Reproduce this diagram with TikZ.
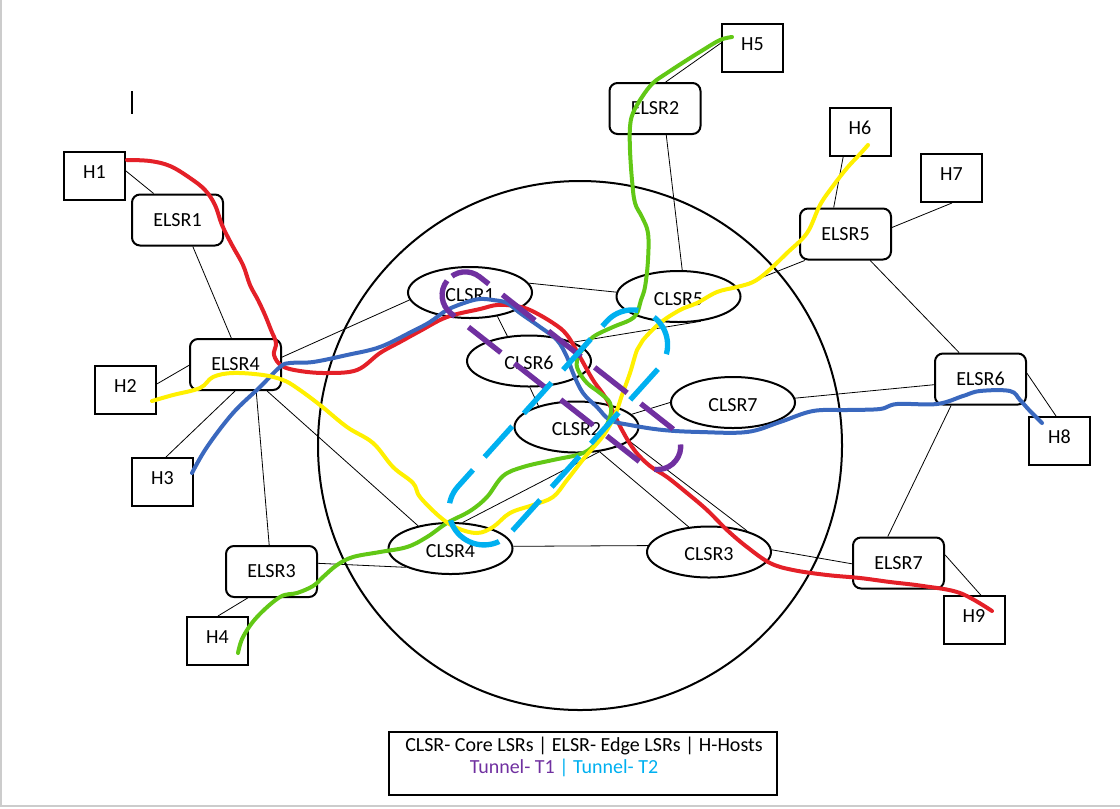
\documentclass[tikz,border=0pt]{standalone}
\usepackage{fontspec}
\setmainfont{Carlito}
\usetikzlibrary{shapes.geometric}
\tikzset{every picture/.style={line width=0.75pt}}
\definecolor{tracered}{RGB}{228,32,40}
\definecolor{traceblue}{RGB}{58,104,190}
\definecolor{traceyellow}{RGB}{255,240,0}
\definecolor{tracegreen}{RGB}{98,200,22}
\definecolor{tunnelpurple}{RGB}{112,48,160}
\definecolor{tunnelcyan}{RGB}{0,176,240}
\tikzset{
  lbl/.style={font=\fontsize{15}{18}\selectfont},
  hostbox/.style={lbl, draw, line width=1.5pt, fill=white, inner sep=0pt,
    minimum width=45.75pt, minimum height=36pt, text depth=6pt},
  elsr/.style={lbl, draw, line width=1.5pt, fill=white, inner sep=0pt,
    rounded corners=6pt, minimum width=68.25pt, minimum height=38.25pt},
  clsr/.style={lbl, draw, ellipse, line width=1.5pt, fill=white, inner sep=0pt,
    minimum width=93pt, minimum height=38.25pt, text height=13.5pt},
  link/.style={line width=0.6pt},
  trace/.style={line width=3pt, line cap=round, line join=round},
  tunnel/.style={line width=4pt, dash pattern=on 31pt off 13pt},
}

\begin{document}
\begin{tikzpicture}[x=0.75pt,y=0.75pt,yscale=-1,xscale=1]
\useasboundingbox (0,0) rectangle (1120,808);
%page edge
\draw [gray!40, line width=1.5pt] (1,0) -- (1,806) -- (1120,806);
%stray mark
\draw [line width=0.9pt] (132,91) -- (132,114);

%Shape: core circle
\draw [line width=1.5pt] (580,445.5) ellipse [x radius=262, y radius=264.5];

% core routers
\node [clsr] (c1) at (470,292.5) {CLSR1};
\node [clsr] (c5) at (678.5,296.5) {CLSR5};
\node [clsr] (c6) at (529,361) {CLSR6};
\node [clsr] (c2) at (576.5,427) {CLSR2};
\node [clsr] (c7) at (733,402.5) {CLSR7};
\node [clsr] (c4) at (450.5,548.5) {CLSR4};
\node [clsr] (c3) at (709,552) {CLSR3};

% edge routers
\node [elsr] (e1) at (177.5,220) {ELSR1};
\node [elsr] (e2) at (655,108.5) {ELSR2};
\node [elsr] (e3) at (271.5,571.5) {ELSR3};
\node [elsr] (e4) at (235.5,364.5) {ELSR4};
\node [elsr] (e5) at (845.5,234) {ELSR5};
\node [elsr] (e6) at (980.5,379) {ELSR6};
\node [elsr] (e7) at (898.5,563) {ELSR7};

% hosts
\node [hostbox] (h1) at (94.5,176) {H1};
\node [hostbox] (h2) at (125.5,390) {H2};
\node [hostbox] (h3) at (162.5,482) {H3};
\node [hostbox] (h4) at (217.5,641) {H4};
\node [hostbox] (h5) at (752.5,48) {H5};
\node [hostbox] (h6) at (860,132) {H6};
\node [hostbox] (h7) at (951.5,178) {H7};
\node [hostbox] (h8) at (1059.5,441) {H8};
\node [hostbox] (h9) at (974,620) {H9};

%Straight Lines: links
\draw [link] (h1.9) -- (e1.132);
\draw [link] (e1.-60) -- (e4.99);
\draw [link] (h2.11) -- (e4.181);
\draw [link] (e4.-91) -- (h3.82);
\draw [link] (e4.-52) -- (e3.95);
\draw [link] (e4.-40) -- (c4.145);
\draw [link] (e4.9) -- (c1.187);
\draw [link] (e3.10) -- (c4.203);
\draw [link] (h4.89) -- (e3.228);
\draw [link] (c4.2) -- (c3.174);
\draw [link] (c4.65) -- (c2.-47);
\draw [link] (c2.-47) -- (c3.129);
\draw [link] (c2.-15) -- (c3.29);
\draw [link] (c3.2) -- (e7.181);
\draw [link] (c2.13) -- (c7.west);
\draw [link] (c7.4) -- (e6.187);
\draw [link] (c5.9) -- (e5.213);
\draw [link] (e2.-67) -- (c5.82);
\draw [link] (h5.171) -- (e2.68);
\draw [link] (c1.9) -- (c5.176);
\draw [link] (c1.-41) -- (c6.131);
\draw [link] (c6.-88) -- (c2.151);
\draw [link] (c6.23) -- (c5.-48);
\draw [link] (e5.114) -- (h6.236);
\draw [link] (e5.8) -- (h7.-89);
\draw [link] (e5.-47) -- (e6.129);
\draw [link] (e6.7) -- (h8.98);
\draw [link] (e6.-138) -- (e7.112);
\draw [link] (e7.10) -- (h9.75);

%Curve Lines: red H1 to H9
\draw [trace, tracered] plot [smooth, tension=0.6] coordinates {(127,160) (150,161) (170,166) (190,178) (205,190) (215,205) (222,225) (232,245) (243,265) (250,285) (258,300) (265,315) (271,330) (276,343) (274,355) (282,366) (300,371) (327,373) (357,370) (380,353) (400,342) (420,331) (447,317) (480,309) (497,305) (515,306) (530,310) (553,323) (567,335) (580,357) (593,380) (607,400) (622,430) (635,451) (650,466) (667,477) (687,493) (707,510) (727,530) (747,547) (770,563) (793,570) (827,575) (860,578) (890,582) (923,586) (960,593) (992,611)};
%Curve Lines: blue H3 to H8
\draw [trace, traceblue] plot [smooth, tension=0.6] coordinates {(192,473) (207,447) (233,413) (260,387) (280,367) (290,363) (313,362) (347,355) (380,347) (413,331) (430,322) (447,310) (467,302) (480,299) (493,300) (507,303) (520,313) (540,327) (557,340) (567,357) (573,373) (583,393) (597,407) (610,420) (630,425) (663,430) (700,432) (747,432) (780,422) (813,411) (847,410) (880,409) (897,404) (937,404) (963,396) (980,391) (1010,391) (1020,400) (1030,411) (1042,423)};
%Curve Lines: green H4 to H5
\draw [trace, tracegreen] plot [smooth, tension=0.6] coordinates {(238,653) (243,637) (257,617) (280,597) (297,593) (313,586) (323,577) (337,565) (353,557) (380,552) (407,547) (427,537) (447,523) (470,511) (487,497) (503,476) (523,467) (553,460) (577,455) (590,449) (600,437) (610,417) (610,403) (600,393) (587,383) (578,370) (577,360) (582,350) (593,337) (613,327) (630,320) (637,313) (641,300) (645,287) (648,260) (648,233) (642,217) (635,203) (632,180) (630,150) (630,127) (633,113) (642,97) (653,83) (667,73) (687,60) (703,50) (720,40) (732,37)};
%Curve Lines: yellow H2 to H6
\draw [trace, traceyellow] plot [smooth, tension=0.6] coordinates {(152,401) (173,395) (200,388) (213,377) (233,373) (263,375) (283,380) (297,388) (320,405) (347,427) (373,443) (393,467) (413,483) (420,497) (440,517) (457,528) (477,533) (493,527) (510,513) (533,505) (553,497) (567,480) (585,457) (603,436) (615,415) (622,395) (630,373) (637,350) (643,340) (660,323) (680,310) (697,303) (717,292) (737,287) (753,282) (767,272) (787,253) (807,233) (820,205) (833,186) (847,168) (860,154) (868,145)};

%Shape: tunnel T1
\begin{scope}[shift={(561.4,370.7)}, rotate=38.2]
\draw [tunnel, tunnelpurple, rounded corners=17.4pt] (-145.5,-23.2) rectangle (145.5,23.2);
\end{scope}
%Shape: tunnel T2
\begin{scope}[shift={(558.3,427.4)}, rotate=-48]
\draw [tunnel, tunnelcyan, rounded corners=26.2pt] (-146,-35) rectangle (146,35);
\end{scope}

% Text Node: legend
\node [draw, line width=1pt, minimum width=291pt, minimum height=47.25pt] (legend) at (583,763.5) {};
\node [lbl, anchor=base] (legendA) at (584,751) {CLSR- Core LSRs | ELSR- Edge LSRs | H-Hosts};
\node [lbl, anchor=base] (legendB) at (564,773) {\textcolor{tunnelpurple}{Tunnel- T1} \textcolor{tunnelcyan}{| Tunnel- T2}};

\end{tikzpicture}
\end{document}
